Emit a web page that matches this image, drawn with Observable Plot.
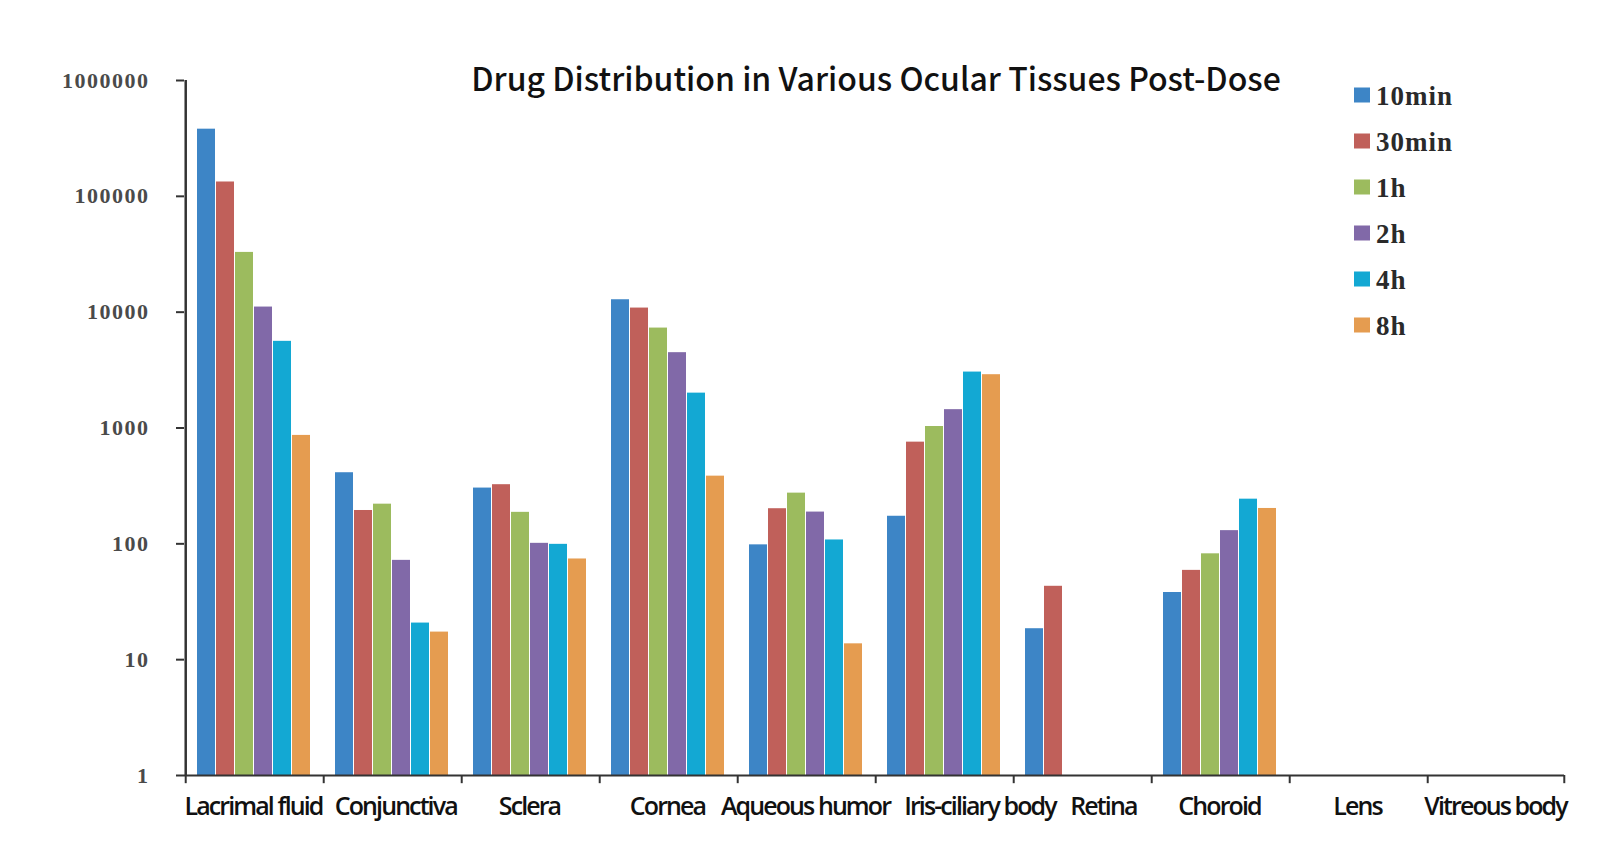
<!DOCTYPE html>
<html>
<head>
<meta charset="utf-8">
<script src="https://cdn.jsdelivr.net/npm/d3@7"></script>
<script src="https://cdn.jsdelivr.net/npm/@observablehq/plot@0.6"></script>
<style>
  html, body { margin: 0; padding: 0; background: #fff; }
  #wrap { position: relative; width: 1600px; height: 859px; overflow: hidden; }
  #chart, #overlay { position: absolute; left: 0; top: 0; }
  #chart svg { background: #fff; }
  g[aria-label="y-axis tick label"] text {
    font-family: "Liberation Serif", "DejaVu Serif", serif !important;
    font-weight: bold; font-size: 22px !important; letter-spacing: 1.5px; fill: #4a4a4a;
  }
  g[aria-label="fx-axis tick label"] text {
    font-family: "Open Sans", sans-serif !important; font-weight: 600;
    font-size: 25px !important; letter-spacing: -1.9px; fill: #111;
  }
  g[aria-label="y-axis tick"] path { stroke: #333; stroke-width: 2px; }
</style>
</head>
<body>
<div id="wrap"><div id="chart"></div><svg id="overlay" width="1600" height="859"></svg></div>
<script>
// ---- data ----
const tissues = ["Lacrimal fluid", "Conjunctiva", "Sclera", "Cornea", "Aqueous humor",
                 "Iris-ciliary body", "Retina", "Choroid", "Lens", "Vitreous body"];
const times = ["10min", "30min", "1h", "2h", "4h", "8h"];
const colors = ["#3d85c6", "#c0605a", "#9cbb5e", "#8169a8", "#13a8d3", "#e59c50"];
const yTicks = [1, 10, 100, 1000, 10000, 100000, 1000000];
const title = "Drug Distribution in Various Ocular Tissues Post-Dose";

const v10min = [380000, 411, 303, 12800,  98, 173, 18.5, 38,  null, null];
const v30min = [133000, 194, 324, 10850, 201, 755, 43,   59,  null, null];
const v1h    = [ 32800, 220, 187,  7290, 274, 1030, null, 82, null, null];
const v2h    = [ 11070,  72, 101,  4470, 188, 1440, null, 130, null, null];
const v4h    = [  5600,  20.7, 99, 2000, 108, 3040, null, 243, null, null];
const v8h    = [   863,  17.3, 74,  384, 13.7, 2885, null, 202, null, null];
const series = [v10min, v30min, v1h, v2h, v4h, v8h];

const data = tissues.flatMap((t, i) =>
  times.map((s, j) => ({tissue: t, time: s, value: series[j][i]}))
).filter(d => d.value != null);

// ---- layout ----
const W = 1600, H = 859, mL = 180, mR = 33, mT = 80, mB = 84;
const pInner = 0.06, pOuter = 0.6;
const facetW = (W - mL - mR) / tissues.length;
const step = facetW / (times.length - pInner + 2 * pOuter);
const edge = step * pOuter + step * (1 - pInner) / 2;
const axisColor = "#333";

const chart = Plot.plot({
  width: W, height: H,
  marginLeft: mL, marginRight: mR, marginTop: mT, marginBottom: mB,
  style: {background: "#fff", color: axisColor},
  fx: {domain: tissues, padding: 0, label: null, axis: "bottom", tickSize: 0, tickPadding: 22},
  x: {domain: times, paddingInner: pInner, paddingOuter: pOuter, axis: null},
  y: {type: "log", domain: [1, 1e6], ticks: yTicks, tickFormat: d => String(d),
      tickSize: 8, tickPadding: 27, label: null},
  color: {domain: times, range: colors},
  marks: [
    Plot.barY(data, {fx: "tissue", x: "time", y1: 1, y2: "value", fill: "time"}),
    Plot.ruleY([1], {stroke: axisColor, strokeWidth: 2}),
    Plot.ruleX(tissues, {fx: d => d, x: () => times[0], dx: -edge, y1: 0.85, y2: 1,
                         stroke: axisColor, strokeWidth: 2}),
    Plot.ruleX([tissues[0]], {fx: d => d, x: () => times[0], dx: -edge, y1: 1, y2: 1e6,
                         stroke: axisColor, strokeWidth: 2.5}),
    Plot.ruleX([tissues[tissues.length - 1]], {fx: d => d, x: () => times[times.length - 1], dx: edge,
                         y1: 0.85, y2: 1, stroke: axisColor, strokeWidth: 2})
  ]
});
document.getElementById("chart").appendChild(chart);

// keep category labels from colliding: push a label right if it overlaps its left neighbour
{
  const labels = Array.from(chart.querySelectorAll('g[aria-label="fx-axis tick label"] text'));
  const boxes = labels.map(t => ({t, b: t.getBoundingClientRect()})).sort((a, b) => a.b.left - b.b.left);
  let prevRight = -Infinity;
  const gap = 12;
  for (const {t, b} of boxes) {
    let shift = 0;
    if (b.left < prevRight + gap) shift = prevRight + gap - b.left;
    if (shift > 0) t.setAttribute("dx", shift);
    prevRight = b.right + shift;
  }
}

// ---- title & legend overlay ----
const ov = d3.select("#overlay");
ov.append("text")
  .attr("x", 876).attr("y", 91)
  .attr("text-anchor", "middle")
  .attr("font-family", "'Noto Sans CJK SC', 'Noto Sans', sans-serif")
  .attr("font-size", 32)
  .attr("font-weight", 500)
  .attr("fill", "#111")
  .text(title);

const lg = ov.append("g");
const row = lg.selectAll("g").data(times).join("g")
  .attr("transform", (d, i) => `translate(1354, ${95 + i * 46})`);
row.append("rect")
  .attr("x", 0).attr("y", -7.5).attr("width", 16).attr("height", 15)
  .attr("fill", (d, i) => colors[i]);
row.append("text")
  .attr("x", 22).attr("y", 10)
  .attr("font-family", "'Liberation Serif', 'DejaVu Serif', serif")
  .attr("font-weight", "bold")
  .attr("font-size", 27)
  .attr("letter-spacing", "1px")
  .attr("fill", "#2a2a2a")
  .text(d => d);
</script>
</body>
</html>
